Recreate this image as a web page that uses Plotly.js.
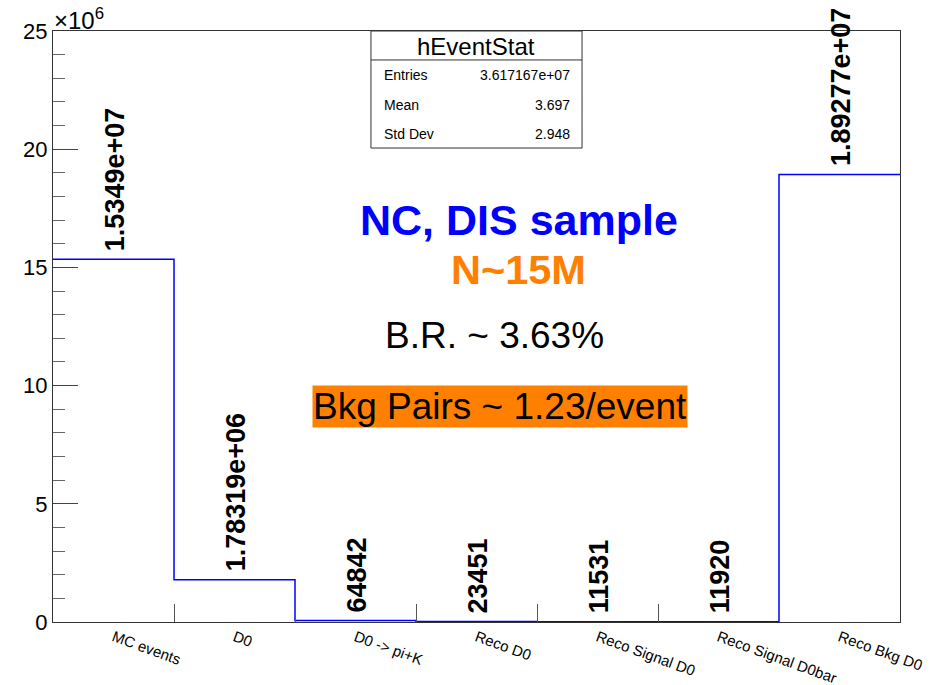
<!DOCTYPE html>
<html>
<head>
<meta charset="utf-8">
<script src="https://cdn.plot.ly/plotly-3.0.1.min.js"></script>
<style>
  html, body { margin: 0; padding: 0; background: #fff; }
  #chart { width: 944px; height: 685px; }
</style>
</head>
<body>
<div id="chart"></div>
<script>
// hEventStat: event counts per selection stage
const categories = ["MC events", "D0", "D0 -> pi+K", "Reco D0", "Reco Signal D0", "Reco Signal D0bar", "Reco Bkg D0"];
const counts = [15349000, 1783190, 64842, 23451, 11531, 11920, 18927700];

const yTickVals = [0, 5e6, 10e6, 15e6, 20e6, 25e6];
const yTickText = ["0", "5", "10", "15", "20", "25"];

const statsTitle = "hEventStat";
const statsNames = ["Entries", "Mean", "Std Dev"];
const statsValues = ["3.617167e+07", "3.697", "2.948"];

const FONT = "Liberation Sans, Arial, Helvetica, sans-serif";

// printf-style %g with 6 significant digits
function fmtG(v) {
  const X = Math.floor(Math.log10(Math.abs(v)));
  if (X < 6 && X >= -4) return String(parseFloat(v.toPrecision(6)));
  let [m, e] = v.toExponential(5).split("e");
  m = m.replace(/\.?0+$/, "");
  const n = parseInt(e, 10);
  return m + "e" + (n < 0 ? "-" : "+") + String(Math.abs(n)).padStart(2, "0");
}

const nb = categories.length;
const edges = categories.map((_, i) => i).concat([nb]);
const stepY = counts.concat([counts[nb - 1]]);
const centers = categories.map((_, i) => i + 0.5);
const innerEdges = edges.slice(1, nb);

const traces = [
  {
    type: "scatter", mode: "lines",
    x: edges, y: stepY,
    line: { shape: "hv", color: "#0000ff", width: 1.5 },
    hoverinfo: "skip", showlegend: false, xaxis: "x", yaxis: "y"
  },
  {
    type: "scatter", mode: "markers",
    x: innerEdges, y: innerEdges.map(() => 0),
    marker: { opacity: 0 }, hoverinfo: "skip", showlegend: false,
    xaxis: "x2", yaxis: "y"
  }
];

const annotations = [];

// bin content labels above each bin
counts.forEach((v, i) => {
  annotations.push({
    xref: "x", yref: "y", x: centers[i], y: v,
    text: fmtG(v), textangle: -90, showarrow: false,
    xanchor: "center", yanchor: "bottom", yshift: 6, xshift: 1,
    font: { family: FONT, size: 27, color: "#000", weight: "bold" }
  });
});

// exponent of y axis
annotations.push({
  xref: "paper", yref: "paper", x: 0, y: 1, xanchor: "left", yanchor: "bottom",
  text: "×10<sup>6</sup>", showarrow: false, yshift: -5, xshift: -1,
  font: { family: FONT, size: 24, color: "#000" }
});

// free text
annotations.push({
  xref: "paper", yref: "paper", x: 0.550, y: 0.680, xanchor: "center", yanchor: "middle",
  text: "<b>NC, DIS sample</b>", showarrow: false,
  font: { family: FONT, size: 43, color: "#0000ff" }
});
annotations.push({
  xref: "paper", yref: "paper", x: 0.5496, y: 0.596, xanchor: "center", yanchor: "middle",
  text: "<b>N~15M</b>", showarrow: false,
  font: { family: FONT, size: 41.5, color: "#ff8000" }
});
annotations.push({
  xref: "paper", yref: "paper", x: 0.5207, y: 0.484, xanchor: "center", yanchor: "middle",
  text: "B.R. ~ 3.63%", showarrow: false,
  font: { family: FONT, size: 37, color: "#000" }
});
annotations.push({
  xref: "paper", yref: "paper", x: 0.5272, y: 0.3646, xanchor: "center", yanchor: "middle",
  text: "Bkg Pairs ~ 1.23/event", showarrow: false,
  bgcolor: "#ff8000", borderpad: 0,
  font: { family: FONT, size: 37, color: "#000" }
});

// statistics box contents
annotations.push({
  xref: "paper", yref: "paper", x: 0.4994, y: 0.9746, xanchor: "center", yanchor: "middle",
  text: statsTitle, showarrow: false,
  font: { family: FONT, size: 24, color: "#000" }
});
const rowY = [0.9250, 0.8755, 0.8260];
statsNames.forEach((nm, i) => {
  annotations.push({
    xref: "paper", yref: "paper", x: 0.3884, y: rowY[i], xanchor: "left", yanchor: "middle",
    text: nm, showarrow: false, font: { family: FONT, size: 14, color: "#000" }
  });
  annotations.push({
    xref: "paper", yref: "paper", x: 0.6128, y: rowY[i], xanchor: "right", yanchor: "middle",
    text: statsValues[i], showarrow: false, font: { family: FONT, size: 14, color: "#000" }
  });
});

const shapes = [
  { type: "rect", xref: "paper", yref: "paper", x0: 0.3754, x1: 0.6246, y0: 0.802, y1: 1.0,
    line: { color: "#333", width: 1 }, fillcolor: "#fff", layer: "below" },
  { type: "line", xref: "paper", yref: "paper", x0: 0.3754, x1: 0.6246, y0: 0.951, y1: 0.951,
    line: { color: "#333", width: 1 } }
];

const layout = {
  width: 944, height: 685,
  margin: { l: 53, r: 44, t: 31, b: 63, pad: 0 },
  paper_bgcolor: "#fff", plot_bgcolor: "rgba(0,0,0,0)",
  font: { family: FONT, color: "#000" },
  showlegend: false,
  xaxis: {
    range: [0, nb], tickvals: centers, ticktext: categories,
    ticks: "", tickangle: 20, showgrid: false, zeroline: false,
    showline: true, mirror: true, linecolor: "#333", linewidth: 1,
    tickfont: { family: FONT, size: 15, color: "#000" }
  },
  xaxis2: {
    overlaying: "x", anchor: "y", side: "bottom",
    range: [0, nb], tickvals: innerEdges, showticklabels: false,
    ticks: "inside", ticklen: 18, tickcolor: "#555", tickwidth: 1,
    showgrid: false, zeroline: false, showline: false
  },
  yaxis: {
    range: [0, 25e6], tickvals: yTickVals, ticktext: yTickText,
    ticks: "inside", ticklen: 25, tickcolor: "#444", tickwidth: 1,
    minor: { dtick: 1e6, ticks: "inside", ticklen: 12, tickcolor: "#666", showgrid: false },
    showgrid: false, zeroline: false,
    showline: true, mirror: true, linecolor: "#333", linewidth: 1,
    tickfont: { family: FONT, size: 22, color: "#000" }
  },
  annotations: annotations,
  shapes: shapes
};

Plotly.newPlot("chart", traces, layout, { displayModeBar: false, staticPlot: true });
</script>
</body>
</html>
